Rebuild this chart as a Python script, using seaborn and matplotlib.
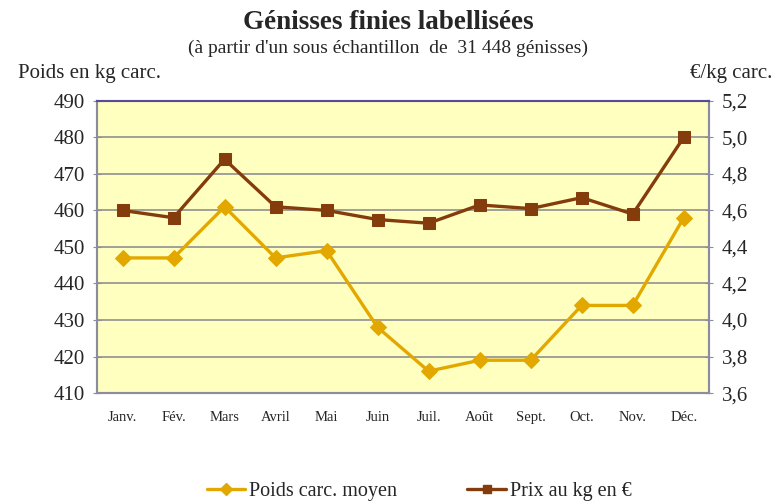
import numpy as np
import pandas as pd
import matplotlib
matplotlib.use("Agg")
import matplotlib.pyplot as plt
from matplotlib.lines import Line2D
import seaborn as sns

mois = ['Janv.', 'Fév.', 'Mars', 'Avril', 'Mai', 'Juin', 'Juil.',
        'Août', 'Sept.', 'Oct.', 'Nov.', 'Déc.']
poids = [447, 447, 461, 447, 449, 428, 416, 419, 419, 434, 434, 458]
prix = [4.60, 4.56, 4.88, 4.62, 4.60, 4.55, 4.53, 4.63, 4.61, 4.67, 4.58, 5.00]

poids_ticks = [410, 420, 430, 440, 450, 460, 470, 480, 490]
prix_ticks = [3.6, 3.8, 4.0, 4.2, 4.4, 4.6, 4.8, 5.0, 5.2]

col_poids = '#E3A800'
col_prix = '#843C0C'
col_axe = '#8C8CA0'

sns.set_style('white')
plt.rcParams['font.family'] = ['Liberation Serif', 'DejaVu Serif']

df = pd.DataFrame({'mois': mois, 'x': np.arange(len(mois)), 'poids': poids, 'prix': prix})

fig = plt.figure(figsize=(7.76, 5.04), dpi=100)
ax = fig.add_axes([0.125, 0.220, 0.789, 0.580])
ax.set_facecolor('#FFFFC0')
ax2 = ax.twinx()

sns.lineplot(data=df, x='x', y='poids', ax=ax, color=col_poids, linewidth=2.4,
             marker='D', markersize=8, markeredgecolor=col_poids,
             legend=False, zorder=3)
sns.lineplot(data=df, x='x', y='prix', ax=ax2, color=col_prix, linewidth=2.4,
             marker='s', markersize=8, markeredgecolor=col_prix,
             legend=False, zorder=3)

ax.set_xlim(-0.5, len(mois) - 0.5)
ax.set_ylim(410, 490)
ax2.set_ylim(3.6, 5.2)
ax.set_yticks(poids_ticks)
ax.set_yticklabels([str(v) for v in poids_ticks], fontsize=15)
ax2.set_yticks(prix_ticks)
ax2.set_yticklabels([f'{v:.1f}'.replace('.', ',') for v in prix_ticks], fontsize=15)

ax.set_xticks(np.arange(len(mois)))
ax.set_xticklabels(mois, fontsize=10.5)
ax.set_xticks(np.arange(-0.5, len(mois)), minor=True)
ax.tick_params(axis='x', which='major', length=0, pad=13)
ax.tick_params(axis='x', which='minor', length=6, direction='inout', color=col_axe)
ax.tick_params(axis='y', length=6, direction='inout', color=col_axe, pad=6)
ax2.tick_params(axis='y', length=6, direction='inout', color=col_axe, pad=6)

ax.grid(axis='y', color='#909090', linewidth=1.2)
ax.set_axisbelow(True)
ax.set_xlabel('')
ax.set_ylabel('')
ax2.set_ylabel('')

for a in (ax, ax2):
    for s in a.spines.values():
        s.set_color(col_axe)
        s.set_linewidth(1.5)
ax2.spines['top'].set_color('#5A4A9A')

fig.text(0.5, 0.955, 'Génisses finies labellisées', ha='center', va='center',
         fontsize=19.5, fontweight='bold')
fig.text(0.5, 0.905, "(à partir d'un sous échantillon  de  31 448 génisses)",
         ha='center', va='center', fontsize=14)
fig.text(0.023, 0.855, 'Poids en kg carc.', ha='left', va='center', fontsize=15)
fig.text(0.995, 0.855, '€/kg carc.', ha='right', va='center', fontsize=15)

handles = [
    Line2D([], [], color=col_poids, linewidth=2.4, marker='D', markersize=6),
    Line2D([], [], color=col_prix, linewidth=2.4, marker='s', markersize=6),
]
fig.legend(handles, ['Poids carc. moyen', 'Prix au kg en €'], loc='center',
           bbox_to_anchor=(0.54, 0.025), ncol=2, frameon=False, fontsize=14.5,
           handlelength=1.9, handletextpad=0.2, columnspacing=3.5)

fig.savefig('out.png', dpi=100)
